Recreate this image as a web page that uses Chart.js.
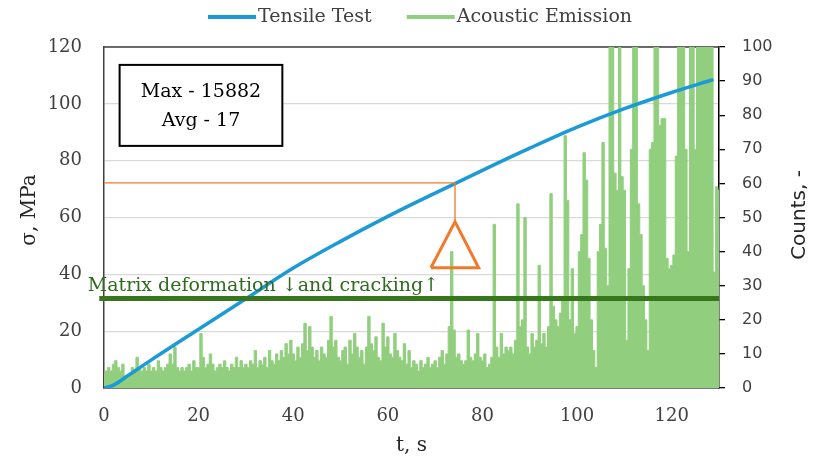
<!DOCTYPE html>
<html>
<head>
<meta charset="utf-8">
<script src="https://cdn.jsdelivr.net/npm/chart.js@4.4.1/dist/chart.umd.min.js"></script>
<style>
  html, body { margin: 0; padding: 0; background: #fff; }
</style>
</head>
<body>
<canvas id="aeChart" width="814" height="465"></canvas>
<script>
// Tensile test curve with acoustic emission counts on a second axis

// AE counts, one reading every 0.5 s starting at t = 0
const aeStep = 0.5;
const aeCounts = [
  // 0-10 s
  4, 5, 6, 5, 7, 8, 6, 5, 7, 3, 3, 4, 6, 5, 9, 6, 5, 6, 5, 7,
  // 10-20 s
  5, 6, 5, 8, 6, 5, 6, 7, 10, 7, 12, 6, 5, 6, 5, 6, 7, 5, 8, 6,
  // 20-30 s
  6, 16, 9, 6, 7, 10, 7, 5, 6, 7, 6, 8, 6, 5, 7, 6, 9, 6, 8, 6,
  // 30-40 s
  7, 6, 8, 7, 11, 6, 8, 7, 9, 6, 11, 8, 7, 10, 8, 11, 9, 13, 10, 14,
  // 40-50 s
  10, 8, 12, 9, 13, 19, 11, 18, 12, 9, 11, 8, 12, 10, 9, 14, 21, 12, 14, 9,
  // 50-60 s
  8, 11, 12, 7, 14, 10, 16, 12, 9, 11, 7, 12, 21, 13, 11, 15, 9, 8, 19, 12,
  // 60-70 s
  15, 10, 9, 16, 11, 9, 8, 13, 7, 11, 6, 8, 7, 5, 8, 6, 7, 9, 6, 7,
  // 70-80 s
  8, 6, 9, 11, 7, 10, 18, 40, 17, 9, 10, 8, 7, 8, 17, 9, 8, 10, 16, 9,
  // 80-90 s
  8, 10, 6, 7, 9, 48, 12, 9, 16, 10, 12, 11, 12, 10, 14, 54, 18, 20, 50, 12,
  // 90-100 s
  10, 16, 12, 14, 36, 13, 16, 12, 18, 57, 24, 20, 18, 22, 26, 74, 55, 20, 35, 16,
  // 100-110 s
  18, 40, 45, 69, 61, 38, 20, 11, 6, 40, 48, 72, 41, 30, 100, 100, 63, 58, 100, 62,
  // 110-120 s
  58, 14, 35, 70, 100, 100, 54, 45, 30, 20, 11, 70, 72, 100, 100, 77, 79, 79, 38, 35,
  // 120-130 s
  36, 39, 68, 100, 100, 100, 70, 40, 100, 100, 70, 100, 100, 100, 100, 100, 100, 100, 34, 59, 58
];

// stress-time curve
const tensileTime = [0, 2, 5, 10, 20, 30, 40, 50, 60, 70, 80, 90, 100, 110, 120, 128.5];
const tensileStress = [0, 1, 4.3, 9.9, 20.7, 31.4, 42.2, 51.6, 60.4, 68.6, 76.6, 84.4, 91.8, 98.3, 104, 108.4];

// matrix deformation / cracking level
const thresholdTime = [-1, 130];
const thresholdStress = 31.5;

// stress at the first big AE burst, with triangle marker below it
const markerTime = [0, 74.2, 74.2];
const markerStress = [72.2, 72.2, 58.5];
const triangleTime = [69.1, 74.2, 79.2, 69.1];
const triangleStress = [42.3, 58.5, 42.3, 42.3];

// axis ticks
const timeTicks = [0, 20, 40, 60, 80, 100, 120];
const stressTicks = [0, 20, 40, 60, 80, 100, 120];
const countTicks = [0, 10, 20, 30, 40, 50, 60, 70, 80, 90, 100];

const summaryLines = ["Max - 15882", "Avg - 17"];
const thresholdLabel = "Matrix deformation \u2193and cracking\u2191";

const serif = "'DejaVu Serif', serif";
const sans = "'DejaVu Sans', sans-serif";
const textColor = "#404040";

const blue = "#1c9ad6";
const lightGreen = "#91cf7e";
const darkGreen = "#38761d";
const orange = "#f07b2c";

const pts = (xs, ys) => xs.map((v, i) => ({ x: v, y: ys[i] }));

const aePoints = aeCounts.map((c, i) => ({ x: i * aeStep, y: c }));

// extra drawing: frame top, caption, summary box, legend, axis titles
const decorations = {
  id: "decorations",
  beforeDatasetsDraw(chart) {
    const { ctx, chartArea: a } = chart;
    ctx.save();
    ctx.strokeStyle = "#404040";
    ctx.lineWidth = 1.5;
    ctx.beginPath();
    ctx.moveTo(a.left, a.top);
    ctx.lineTo(a.right, a.top);
    ctx.stroke();
    ctx.restore();
  },
  afterDatasetsDraw(chart) {
    const { ctx, scales: { x, y } } = chart;
    ctx.save();

    // caption above the threshold line
    ctx.font = "19px " + serif;
    ctx.fillStyle = "#2e6b1f";
    ctx.textAlign = "center";
    ctx.textBaseline = "alphabetic";
    ctx.fillText(thresholdLabel, x.getPixelForValue(33.7), y.getPixelForValue(34.1));

    // Max / Avg box
    const l = x.getPixelForValue(3.3), r = x.getPixelForValue(37.7);
    const t = y.getPixelForValue(113.7), b = y.getPixelForValue(85.2);
    ctx.fillStyle = "#fff";
    ctx.fillRect(l, t, r - l, b - t);
    ctx.strokeStyle = "#000";
    ctx.lineWidth = 2;
    ctx.strokeRect(l, t, r - l, b - t);
    ctx.fillStyle = "#000";
    ctx.textBaseline = "middle";
    ctx.font = "19px " + serif;
    const cx = (l + r) / 2;
    ctx.fillText(summaryLines[0], cx, y.getPixelForValue(104.2));
    ctx.fillText(summaryLines[1], cx, y.getPixelForValue(93.9));
    ctx.restore();
  },
  afterDraw(chart) {
    const { ctx, chartArea: a } = chart;
    ctx.save();

    // legend
    ctx.font = "19px " + serif;
    ctx.fillStyle = textColor;
    ctx.textBaseline = "middle";
    ctx.textAlign = "left";
    let lx = 208;
    const ly = 17;
    chart.data.datasets.filter(d => d.inLegend).forEach(d => {
      ctx.strokeStyle = d.borderColor;
      ctx.lineWidth = 4;
      ctx.beginPath();
      ctx.moveTo(lx, ly);
      ctx.lineTo(lx + 48, ly);
      ctx.stroke();
      ctx.fillText(d.label, lx + 50, ly);
      lx += 50 + ctx.measureText(d.label).width + 35;
    });

    // axis titles
    ctx.fillStyle = "#262626";
    ctx.textAlign = "center";
    ctx.font = "20px " + serif;
    ctx.fillText("t, s", (a.left + a.right) / 2, 446);

    ctx.save();
    ctx.translate(30, 210);
    ctx.rotate(-Math.PI / 2);
    ctx.fillText("\u03c3, MPa", 0, 0);
    ctx.restore();

    ctx.save();
    ctx.translate(800, 215);
    ctx.rotate(-Math.PI / 2);
    ctx.font = "20px " + sans;
    ctx.fillText("Counts, -", 0, 0);
    ctx.restore();

    ctx.restore();
  }
};

new Chart(document.getElementById("aeChart"), {
  type: "line",
  data: {
    datasets: [
      {
        label: "threshold",
        data: pts(thresholdTime, [thresholdStress, thresholdStress]),
        borderColor: darkGreen,
        borderWidth: 5,
        pointRadius: 0,
        yAxisID: "y",
        clip: false,
        order: 0
      },
      {
        label: "marker",
        data: pts(markerTime, markerStress),
        borderColor: orange,
        borderWidth: 1.3,
        pointRadius: 0,
        yAxisID: "y",
        order: 1
      },
      {
        label: "triangle",
        data: pts(triangleTime, triangleStress),
        borderColor: orange,
        borderWidth: 3,
        borderJoinStyle: "miter",
        pointRadius: 0,
        yAxisID: "y",
        order: 1
      },
      {
        label: "Tensile Test",
        inLegend: true,
        data: pts(tensileTime, tensileStress),
        borderColor: blue,
        borderWidth: 3.5,
        borderCapStyle: "round",
        cubicInterpolationMode: "monotone",
        pointRadius: 0,
        yAxisID: "y",
        order: 2
      },
      {
        label: "Acoustic Emission",
        inLegend: true,
        data: aePoints,
        borderColor: lightGreen,
        backgroundColor: lightGreen,
        borderWidth: 1,
        stepped: "middle",
        fill: "origin",
        pointRadius: 0,
        yAxisID: "y1",
        order: 3
      }
    ]
  },
  options: {
    responsive: false,
    animation: false,
    layout: { padding: { top: 47, left: 0, right: 0, bottom: 0 } },
    plugins: {
      legend: { display: false },
      tooltip: { enabled: false }
    },
    scales: {
      x: {
        type: "linear",
        min: 0,
        max: 130,
        afterBuildTicks: axis => { axis.ticks = timeTicks.map(v => ({ value: v })); },
        afterFit: s => { s.height = 77; },
        grid: { display: false },
        border: { display: true, color: "#000", width: 1.5 },
        ticks: {
          autoSkip: false,
          maxRotation: 0,
          padding: 10,
          color: textColor,
          font: { family: serif, size: 18 }
        }
      },
      y: {
        position: "left",
        min: 0,
        max: 120,
        afterBuildTicks: axis => { axis.ticks = stressTicks.map(v => ({ value: v })); },
        afterFit: s => { s.width = 104; },
        grid: { color: "#d9d9d9", lineWidth: 1.3, drawTicks: false },
        border: { color: "#404040", width: 1.5 },
        ticks: {
          padding: 22,
          color: textColor,
          font: { family: serif, size: 18 }
        }
      },
      y1: {
        position: "right",
        min: 0,
        max: 100,
        afterBuildTicks: axis => { axis.ticks = countTicks.map(v => ({ value: v })); },
        afterFit: s => { s.width = 95; },
        grid: { drawOnChartArea: false, drawTicks: true, tickLength: 6, color: "#000", lineWidth: 1.3 },
        border: { color: "#000", width: 1.5 },
        ticks: {
          padding: 17,
          color: textColor,
          font: { family: sans, size: 16 }
        }
      }
    }
  },
  plugins: [decorations]
});
</script>
</body>
</html>
